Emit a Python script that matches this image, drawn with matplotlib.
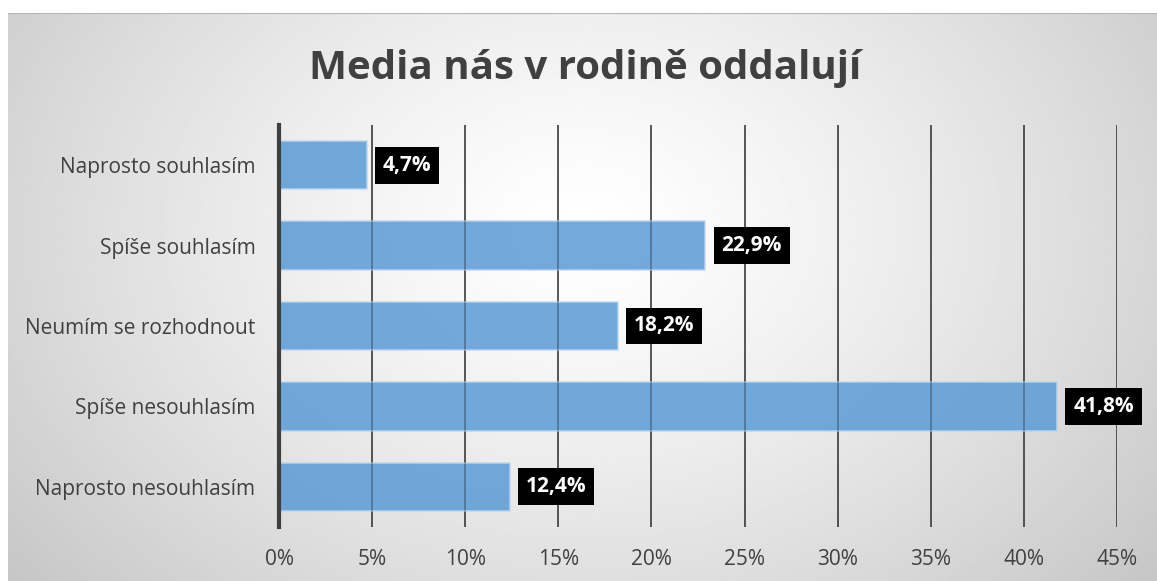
import numpy as np
import matplotlib.pyplot as plt
from matplotlib.ticker import FuncFormatter

categories = ["Naprosto souhlasím", "Spíše souhlasím", "Neumím se rozhodnout",
              "Spíše nesouhlasím", "Naprosto nesouhlasím"]
values = [4.7, 22.9, 18.2, 41.8, 12.4]
value_labels = ["4,7%", "22,9%", "18,2%", "41,8%", "12,4%"]
x_ticks = [0, 5, 10, 15, 20, 25, 30, 35, 40, 45]

TITLE = "Media nás v rodině oddalují"
FONT = ["Open Sans", "DejaVu Sans"]
TEXT_COLOR = "#404040"

plt.rcParams['font.family'] = FONT

W, H = 1157, 581
fig = plt.figure(figsize=(W / 100, H / 100), dpi=100)
fig.patch.set_facecolor("white")

# radial grey gradient behind the chart
bg = fig.add_axes([8 / W, 0, 1 - 8 / W, (H - 13) / H], zorder=0)
gx, gy = np.meshgrid(np.linspace(0, 1, 400), np.linspace(0, 1, 200))
r = np.sqrt(((gx - 0.5) / 0.5) ** 2 + ((gy - 0.62) / 0.75) ** 2)
shade = 1.0 - 0.235 * np.clip(r / 1.35, 0, 1) ** 1.3
bg.imshow(shade, cmap="gray", vmin=0, vmax=1, aspect="auto",
          extent=[0, 1, 0, 1], origin="lower", interpolation="bilinear")
bg.axhline(1, color="#b5b5b5", lw=1.5)
bg.set_axis_off()

ax = fig.add_axes([279 / W, (H - 527) / H, (1117 - 279) / W, (527 - 125) / H], zorder=1)
ax.patch.set_alpha(0)

y = np.arange(len(categories))
ax.barh(y, values, height=0.6, color="#5b9bd5", alpha=0.85,
        edgecolor="#bcd6ee", linewidth=1.2, zorder=3)

for yi, v, lab in zip(y, values, value_labels):
    ax.annotate(lab, (v, yi), xytext=(11.5, 0), textcoords="offset points",
                ha="left", va="center", color="white", fontsize=15,
                fontweight="bold", zorder=5,
                bbox=dict(boxstyle="square,pad=0.38", fc="black", ec="none"))

ax.set_xlim(0, 45)
ax.set_ylim(len(categories) - 0.5, -0.5)
ax.set_xticks(x_ticks)
ax.xaxis.set_major_formatter(FuncFormatter(lambda v, p: f"{v:.0f}%"))
ax.set_yticks(y)
ax.set_yticklabels(categories)
ax.tick_params(axis="x", length=0, pad=16, labelsize=15, labelcolor=TEXT_COLOR)
ax.tick_params(axis="y", length=0, pad=17, labelsize=15, labelcolor=TEXT_COLOR)
ax.grid(axis="x", color="#3a3a3a", lw=1.1, zorder=1)
for t in x_ticks[1:]:
    ax.axvline(t, color="#3a3a3a", lw=1.1, zorder=4, alpha=0.35)

for s in ["top", "right", "bottom"]:
    ax.spines[s].set_visible(False)
ax.spines["left"].set_color("#3f3f3f")
ax.spines["left"].set_linewidth(3)
ax.spines["left"].set_zorder(6)

fig.text(0.506, 0.882, TITLE, ha="center", va="center", fontsize=29,
         fontweight="bold", color=TEXT_COLOR)

fig.savefig("out.png", dpi=100)
